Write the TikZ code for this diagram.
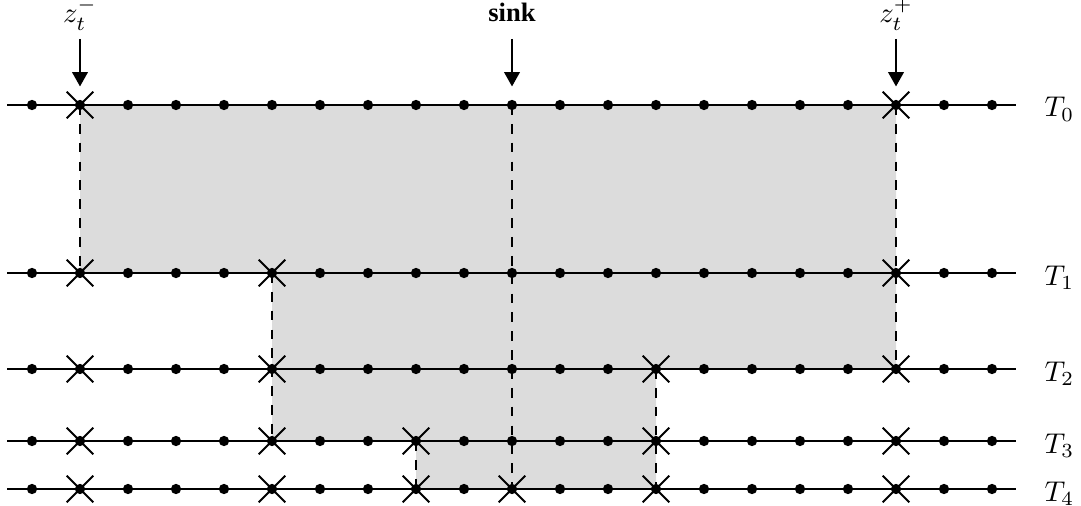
\documentclass[tikz,border=0pt]{standalone}
\usepackage{fontspec}
\newfontfamily\sinkfont{Liberation Serif}
\usetikzlibrary{arrows.meta,shapes.misc}
\definecolor{regiongray}{RGB}{220,220,220}
\begin{document}
\begin{tikzpicture}[x=0.35pt,y=-0.35pt,
  dot/.style={circle,fill=black,inner sep=0pt,minimum size=3.6pt},
  xmark/.style={cross out,draw=black,line width=0.7pt,inner sep=0pt,minimum size=8.6pt},
  rowline/.style={line width=0.45pt},
  border/.style={line width=0.4pt,dash pattern=on 3.4pt off 3.2pt},
  pointer/.style={-{Triangle[length=5pt,width=5.5pt]},line width=0.45pt},
  toplabel/.style={anchor=base,inner sep=0pt},
  rowlabel/.style={anchor=base west,inner sep=0pt}]
\useasboundingbox (0,0) rectangle (1081,506);
% shaded region
\fill[regiongray] (80,105) -- (896,105) -- (896,369) -- (656,369) -- (656,489) -- (416,489)
  -- (416,441) -- (272,441) -- (272,273) -- (80,273) -- cycle;
% grid coordinates
\foreach \r/\y in {0/105,1/273,2/369,3/441,4/489}{
  \coordinate (L\r) at (7,\y);
  \coordinate (R\r) at (1016,\y);
  \foreach \i in {0,...,20}{ \coordinate (p\r-\i) at ({32+48*\i},\y); }
}
% dashed borders
\draw[border] (p0-1) -- (p1-1);
\draw[border] (p0-18) -- (p2-18);
\draw[border] (p1-5) -- (p3-5);
\draw[border] (p2-13) -- (p4-13);
\draw[border] (p3-8) -- (p4-8);
\draw[border] (p0-10) -- (p4-10);
% rows, dots, labels
\foreach \r/\y in {0/105,1/273,2/369,3/441,4/489}{
  \draw[rowline] (L\r) -- (R\r);
  \foreach \i in {0,...,20}{ \node[dot] (d\r-\i) at (p\r-\i) {}; }
  \node[rowlabel] (T\r) at (1044,\y+12) {$T_\r$};
}
% crosses
\foreach \i in {1,18}{ \node[xmark] (x0-\i) at (p0-\i) {}; }
\foreach \i in {1,5,18}{ \node[xmark] (x1-\i) at (p1-\i) {}; }
\foreach \i in {1,5,13,18}{ \node[xmark] (x2-\i) at (p2-\i) {}; }
\foreach \i in {1,5,8,13,18}{ \node[xmark] (x3-\i) at (p3-\i) {}; }
\foreach \i in {1,5,8,10,13,18}{ \node[xmark] (x4-\i) at (p4-\i) {}; }
% top labels and arrows
\node[toplabel] (zm) at (80,23) {$z_t^-$};
\node[toplabel] (sink) at (512,22) {\sinkfont\fontsize{9.3pt}{11pt}\selectfont\bfseries sink};
\node[toplabel] (zp) at (896,23) {$z_t^+$};
\coordinate (a1) at (80,39);
\coordinate (a2) at (512,39);
\coordinate (a3) at (896,39);
\draw[pointer,shorten >=4.5pt] (a1) -- (d0-1);
\draw[pointer,shorten >=4.5pt] (a2) -- (d0-10);
\draw[pointer,shorten >=4.5pt] (a3) -- (d0-18);
\end{tikzpicture}
\end{document}
